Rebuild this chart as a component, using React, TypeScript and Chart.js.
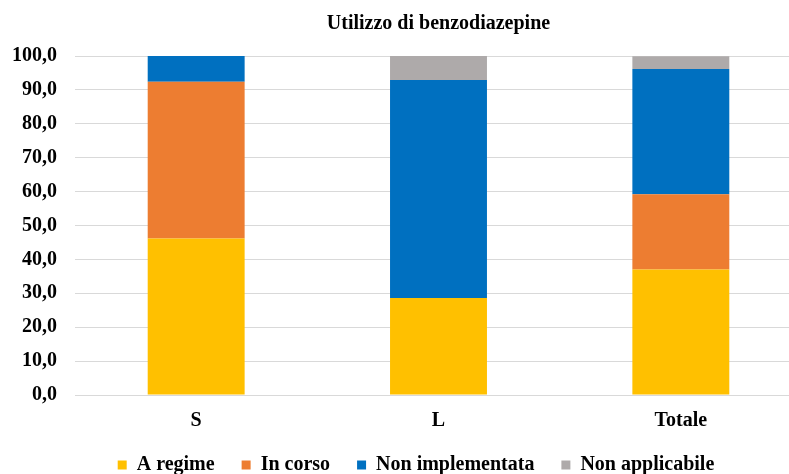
import React, { useEffect, useRef } from 'react';
import { Chart, registerables } from 'chart.js';

Chart.register(...registerables);

const chartTitle = 'Utilizzo di benzodiazepine';
const categories = ['S', 'L', 'Totale'];
const seriesNames = ['A regime', 'In corso', 'Non implementata', 'Non applicabile'];
const aRegime = [46.2, 28.6, 37.0];
const inCorso = [46.2, 0, 22.2];
const nonImplementata = [7.7, 64.3, 37.0];
const nonApplicabile = [0, 7.1, 3.7];
const seriesColors = ['#FFC000', '#ED7D31', '#0070C0', '#AEAAAA'];
const yMin = 0;
const yMax = 100;
const yStep = 10;

const FONT = "'Liberation Serif', 'Times New Roman', serif";

export default function App() {
  const ref = useRef<HTMLCanvasElement | null>(null);

  useEffect(() => {
    if (!ref.current) return;
    const values = [aRegime, inCorso, nonImplementata, nonApplicabile];
    const chart = new Chart(ref.current, {
      type: 'bar',
      data: {
        labels: categories,
        datasets: seriesNames.map((name, i) => ({
          label: name,
          data: values[i],
          backgroundColor: seriesColors[i],
          borderWidth: 0,
          categoryPercentage: 1,
          barPercentage: 0.4,
        })),
      },
      options: {
        responsive: false,
        animation: false,
        devicePixelRatio: 1,
        layout: { padding: { left: 0, right: 0, top: 0, bottom: 0 } },
        plugins: {
          title: {
            display: true,
            text: chartTitle,
            fullSize: false,
            color: '#000',
            font: { family: FONT, size: 20, weight: 'bold' },
            padding: { top: 12, bottom: 20 },
          },
          legend: {
            position: 'bottom',
            maxHeight: 46,
            labels: {
              color: '#000',
              boxWidth: 9,
              boxHeight: 9,
              padding: 27,
              font: { family: FONT, size: 20, weight: 'bold' },
            },
          },
          tooltip: { enabled: false },
        },
        scales: {
          x: {
            stacked: true,
            grid: { display: false, drawTicks: false },
            border: { display: true, color: '#D9D9D9', width: 1 },
            afterFit: (scale: any) => {
              scale.height = 33;
            },
            ticks: {
              color: '#000',
              padding: 14,
              font: { family: FONT, size: 20, weight: 'bold' },
            },
          },
          y: {
            stacked: true,
            min: yMin,
            max: yMax,
            grid: { color: '#D9D9D9', lineWidth: 1, drawTicks: false },
            border: { display: false },
            afterFit: (scale: any) => {
              scale.width = 75;
            },
            ticks: {
              stepSize: yStep,
              color: '#000',
              padding: 18,
              font: { family: FONT, size: 20, weight: 'bold' },
              callback: (v: any) => Number(v).toFixed(1).replace('.', ','),
            },
          },
          yRight: {
            position: 'right',
            display: true,
            min: yMin,
            max: yMax,
            grid: { display: false, drawTicks: false },
            border: { display: false },
            ticks: { display: false },
            afterFit: (scale: any) => {
              scale.width = 30;
            },
          },
        },
      },
    } as any);
    return () => chart.destroy();
  }, []);

  return (
    <div
      style={{
        position: 'absolute',
        left: 0,
        top: 0,
        width: 789,
        height: 474,
        overflow: 'hidden',
        background: '#fff',
      }}
    >
      <canvas ref={ref} width={832} height={474} style={{ width: 832, height: 474, display: 'block' }} />
    </div>
  );
}
